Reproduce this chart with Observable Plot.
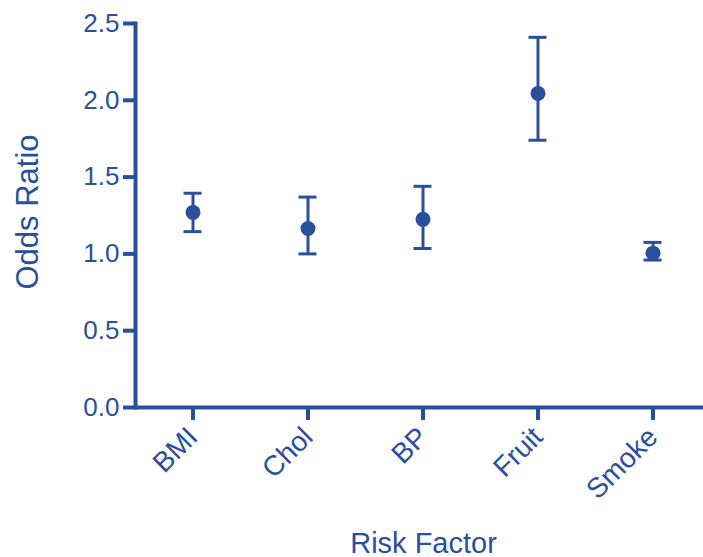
<!DOCTYPE html>
<html>
<head>
<meta charset="utf-8">
<script src="https://cdn.jsdelivr.net/npm/d3@7"></script>
<script src="https://cdn.jsdelivr.net/npm/@observablehq/plot@0.6"></script>
<style>
  html, body { margin: 0; padding: 0; background: #fff; }
  #chart svg { display: block; }
</style>
</head>
<body>
<div id="chart"></div>
<script>
const factors = ["BMI", "Chol", "BP", "Fruit", "Smoke"];
const oddsRatio = [1.27, 1.165, 1.225, 2.045, 1.005];
const lower = [1.145, 1.0, 1.035, 1.74, 0.96];
const upper = [1.395, 1.37, 1.44, 2.41, 1.075];
const yTicks = [0, 0.5, 1.0, 1.5, 2.0, 2.5];

const data = factors.map((f, i) => ({factor: f, or: oddsRatio[i], lo: lower[i], hi: upper[i]}));

const C = "#2a4f9c";
const FONT = "'Liberation Sans', Arial, Helvetica, sans-serif";

const chart = Plot.plot({
  width: 703,
  height: 557,
  marginLeft: 135,
  marginTop: 23,
  marginBottom: 150,
  marginRight: 0,
  style: {fontFamily: FONT, color: C, background: "#fff"},
  x: {type: "band", domain: factors, range: [135, 710], padding: 0},
  y: {domain: [0, 2.5]},
  marks: [
    Plot.axisY({ticks: yTicks, tickFormat: d3.format(".1f"), tickSize: 12, tickPadding: 4,
      strokeWidth: 4, fontSize: 26, label: null, fill: C, stroke: C}),
    Plot.axisX({tickSize: 13, tickPadding: 12, tickRotate: -45, strokeWidth: 4,
      fontSize: 28, label: null, fill: C, stroke: C}),
    Plot.ruleY([0], {stroke: C, strokeWidth: 4}),
    Plot.frame({anchor: "left", stroke: C, strokeWidth: 4}),
    Plot.ruleX(data, {x: "factor", y1: "lo", y2: "hi", stroke: C, strokeWidth: 3}),
    Plot.tickY(data, {x: "factor", y: "hi", stroke: C, strokeWidth: 3, insetLeft: 48.5, insetRight: 48.5}),
    Plot.tickY(data, {x: "factor", y: "lo", stroke: C, strokeWidth: 3, insetLeft: 48.5, insetRight: 48.5}),
    Plot.dot(data, {x: "factor", y: "or", r: 7.5, fill: C, stroke: "none"}),
    Plot.text(["Odds Ratio"], {frameAnchor: "left", textAnchor: "middle", rotate: -90, dx: -98, dy: -3.5,
      lineAnchor: "bottom", fontSize: 31, fill: C}),
    Plot.text(["Risk Factor"], {frameAnchor: "bottom", textAnchor: "middle", dx: 4, dy: 145, lineAnchor: "bottom",
      fontSize: 29, fill: C})
  ]
});
document.getElementById("chart").appendChild(chart);
</script>
</body>
</html>
